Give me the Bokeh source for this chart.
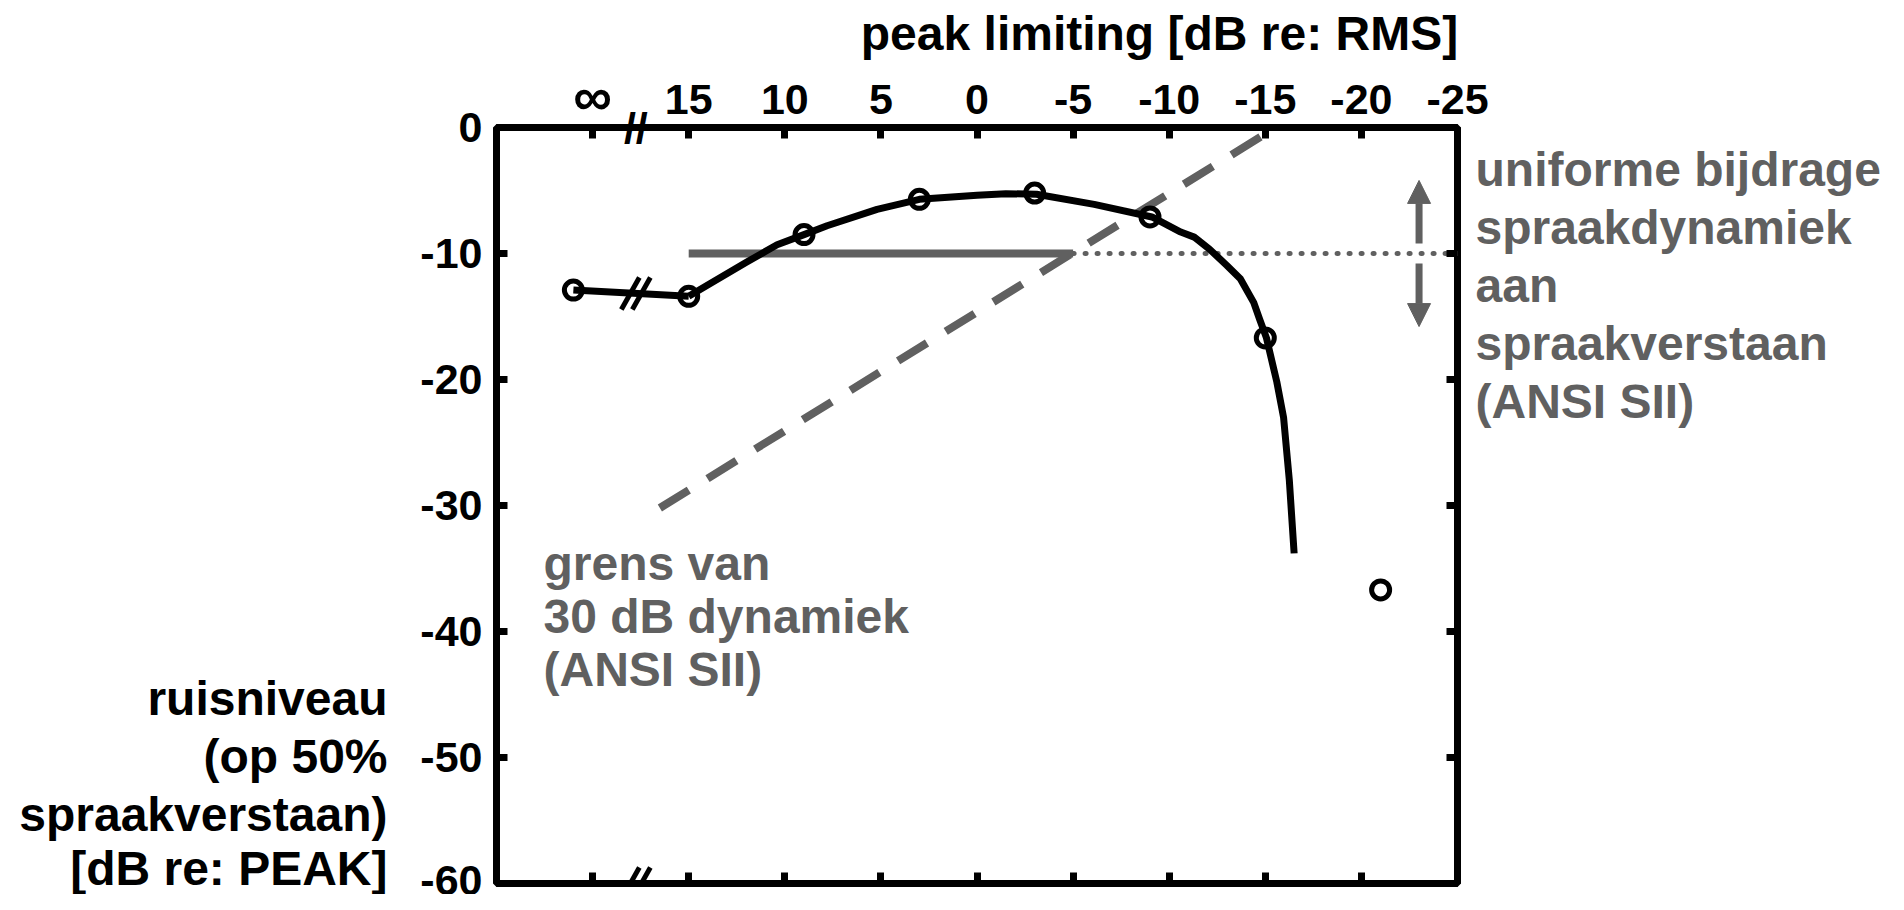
import numpy as np
from bokeh.plotting import figure
from bokeh.models import Range1d, LinearAxis, FixedTicker, Label, Arrow, NormalHead
from bokeh.embed import file_html
from bokeh.resources import INLINE

# ---------------- data ----------------
limit_ticks = [20, 15, 10, 5, 0, -5, -10, -15, -20, -25]
limit_tick_labels = ["∞", "15", "10", "5", "0", "-5", "-10", "-15", "-20", "-25"]
noise_ticks = [0, -10, -20, -30, -40, -50, -60]
noise_tick_labels = ["0", "-10", "-20", "-30", "-40", "-50", "-60"]

# measured points (first entry = no limiting, drawn left of the axis break)
peak_limit = [21, 15, 9, 3, -3, -9, -15, -21]
noise_level = [-12.9, -13.4, -8.5, -5.7, -5.2, -7.1, -16.7, -36.7]

# fitted curve
fit_x = [15, 13.9, 12.0, 10.4, 9.0, 7.8, 5.2, 3.0, 0.0, -1.5, -3.1, -6.1, -9.1,
         -10.6, -11.3, -12.1, -13.0, -13.7, -14.4, -14.7, -15.06, -15.6, -15.95,
         -16.25, -16.5]
fit_y = [-13.4, -12.4, -10.7, -9.3, -8.5, -7.8, -6.5, -5.7, -5.37, -5.25, -5.3,
         -6.1, -7.1, -8.3, -8.7, -9.66, -10.95, -12.0, -13.9, -15.2, -16.7, -20.2,
         -23.0, -28.0, -33.8]

# limit of 30 dB dynamic range (ANSI SII)
dyn30_x = [16.5, -14.8]
dyn30_y = [-30.2, -0.7]

# uniform contribution level
uniform_level = -10
uniform_solid_x = [15, -5]
uniform_dotted_x = [-5, -25]

# double arrow
arrow_x = -23
arrow_up_y = [-9.2, -4.2]
arrow_down_y = [-10.8, -15.8]

BREAK_X = 17.75

title_text = "peak limiting [dB re: RMS]"
ylab = ["ruisniveau", "(op 50%", "spraakverstaan)", "[dB re: PEAK]"]
right_txt = ["uniforme bijdrage", "spraakdynamiek", "aan", "spraakverstaan", "(ANSI SII)"]
grens_txt = ["grens van", "30 dB dynamiek", "(ANSI SII)"]

# ---------------- layout ----------------
GRAY = "#606060"
FONT = "Liberation Sans"
XL, XR, YT, YB = 25, -25, 0, -60
FL, FR, FT, FB = 504, 1465, 135, 891   # frame edges in page pixels


def X(px):
    return round(XL + (px - FL) * (XR - XL) / (FR - FL), 4)


def Y(py):
    return round(YT + (py - FT) * (YB - YT) / (FB - FT), 4)


PXX = (XL - XR) / (FR - FL)   # dB per pixel in x
PXY = (YT - YB) / (FB - FT)   # dB per pixel in y

p = figure(frame_width=FR - FL, frame_height=FB - FT,
           output_backend="svg", toolbar_location=None,
           x_range=Range1d(XL, XR), y_range=Range1d(YB, YT),
           x_axis_location="above",
           min_border_left=FL - 8, min_border_right=1896 - FR,
           min_border_top=FT - 8, min_border_bottom=902 - FB)
p.title.text = ""
p.title.visible = False
p.grid.visible = False
p.background_fill_color = "white"
p.border_fill_color = "white"
p.outline_line_color = "black"
p.outline_line_width = 7

p.add_layout(LinearAxis(), "below")
p.add_layout(LinearAxis(), "right")

for ax in p.xaxis:
    ax.ticker = FixedTicker(ticks=limit_ticks, minor_ticks=[])
for ax in p.yaxis:
    ax.ticker = FixedTicker(ticks=noise_ticks, minor_ticks=[])

for ax in p.axis:
    ax.axis_line_color = None
    ax.major_tick_in = 11
    ax.major_tick_out = 0
    ax.major_tick_line_width = 7
    ax.major_tick_line_color = "black"
    ax.minor_tick_line_color = None
    ax.major_label_text_font = FONT
    ax.major_label_text_font_style = "bold"
    ax.major_label_text_font_size = "43px"
    ax.major_label_text_color = "black"

left = p.left[0]
left.major_label_overrides = dict(zip(noise_ticks, noise_tick_labels))
left.major_label_standoff = 14
# tick-only axes (top, bottom, right)
for ax, ticks in ((p.above[0], limit_ticks), (p.below[0], limit_ticks), (p.right[0], noise_ticks)):
    ax.major_label_overrides = {t: "" for t in ticks}
    ax.major_label_text_font_size = "0px"
    ax.major_label_text_color = None
    ax.major_label_standoff = 0


# label-only axes
def text_axis(ticks, labels, color, standoff, size="48px"):
    return LinearAxis(ticker=FixedTicker(ticks=ticks, minor_ticks=[]),
                      major_label_overrides=dict(zip(ticks, labels)),
                      axis_line_color=None, major_tick_line_color=None,
                      minor_tick_line_color=None, major_tick_in=0, major_tick_out=0,
                      major_label_standoff=standoff,
                      major_label_text_font=FONT, major_label_text_font_style="bold",
                      major_label_text_font_size=size, major_label_text_color=color)


# top: axis-break mark, tick labels, infinity label, title (stacked outward)
p.add_layout(text_axis([BREAK_X], ["//"], "black", -24, "43px"), "above")
p.add_layout(text_axis(limit_ticks[1:], limit_tick_labels[1:], "black", -13, "43px"), "above")
p.add_layout(text_axis(limit_ticks[:1], limit_tick_labels[:1], "black", -44, "54px"), "above")
p.add_layout(text_axis([X(1167)], [title_text], "black", 3), "above")

p.add_layout(text_axis([Y(706 + 58 * i) for i in range(len(ylab))], ylab, "black", 30), "left")
p.add_layout(text_axis([Y(177 + 58 * i) for i in range(len(right_txt))], right_txt, GRAY, 18), "right")

# 30 dB dynamic range limit
p.line(dyn30_x, dyn30_y, line_color=GRAY, line_width=8, line_dash="34 22")

# uniform contribution lines
p.line(uniform_solid_x, [uniform_level] * 2, line_color=GRAY, line_width=8)
p.line(uniform_dotted_x, [uniform_level] * 2, line_color=GRAY, line_width=5,
       line_dash="1 11", line_cap="round")

# data
p.line(peak_limit[:2], noise_level[:2], line_color="black", line_width=7)
p.line(fit_x, fit_y, line_color="black", line_width=7, line_join="round")
p.scatter(peak_limit, noise_level, marker="circle", size=18, fill_color=None,
          line_color="black", line_width=5)

# double arrow
for ys in (arrow_up_y, arrow_down_y):
    p.add_layout(Arrow(end=NormalHead(size=23, fill_color=GRAY, line_color=GRAY, line_width=1),
                       x_start=arrow_x, y_start=ys[0], x_end=arrow_x, y_end=ys[1],
                       line_color=GRAY, line_width=7))


# axis-break marks (data line and bottom axis)
def break_mark(cx, cy):
    for off in (-5.5, 5.5):
        x0 = cx - off * PXX
        p.add_layout(Arrow(start=None, end=None,
                           x_start=x0 + 9 * PXX, y_start=cy - 16 * PXY,
                           x_end=x0 - 9 * PXX, y_end=cy + 16 * PXY,
                           line_color="black", line_width=5))


break_y = float(np.interp(BREAK_X, peak_limit[1::-1], noise_level[1::-1]))
break_mark(BREAK_X, break_y)
break_mark(BREAK_X, YB)

# text inside the frame
for i, t in enumerate(grens_txt):
    p.add_layout(Label(x=X(551), y=Y(571 + 53 * i), text=t, text_align="left",
                       text_baseline="alphabetic", text_font=FONT, text_font_style="bold",
                       text_font_size="48px", text_color=GRAY))

open("out.html", "w").write(file_html(p, INLINE))
